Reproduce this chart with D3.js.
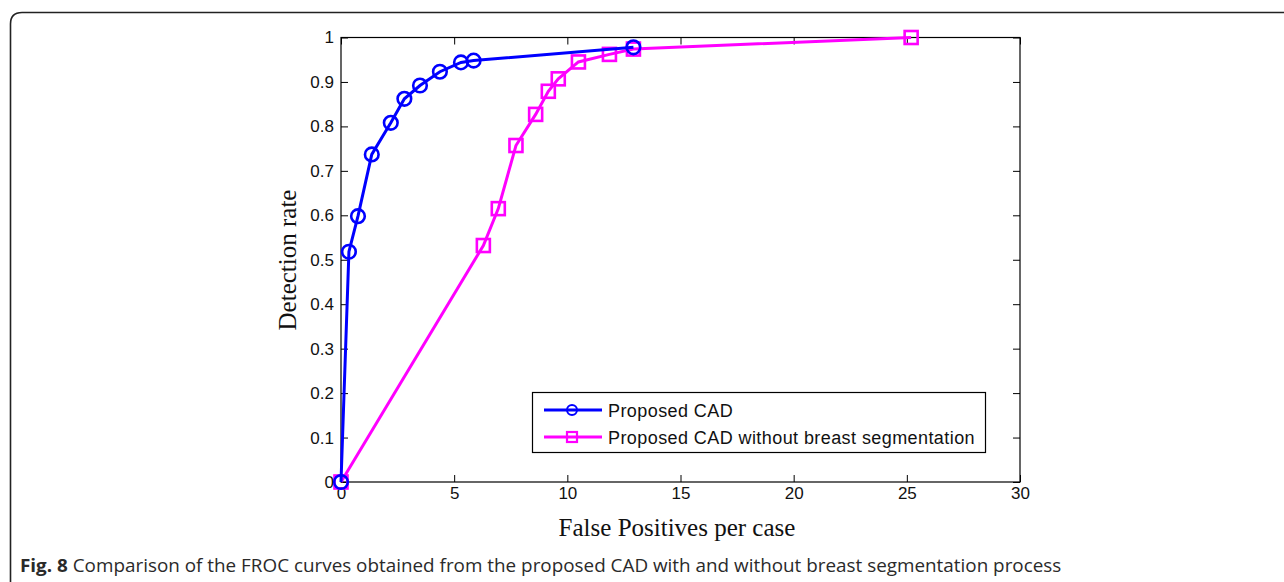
<!DOCTYPE html>
<html><head><meta charset="utf-8">
<script src="https://cdnjs.cloudflare.com/ajax/libs/d3/7.8.5/d3.min.js"></script>
<style>body{margin:0;background:#fff}svg{display:block}</style>
</head><body>
<svg id="c" width="1284" height="582"></svg>
<script>
const seriesNames = ["Proposed CAD", "Proposed CAD without breast segmentation"];
const cadFP = [0, 0.35, 0.75, 1.36, 2.2, 2.8, 3.49, 4.37, 5.3, 5.86, 12.92];
const cadDR = [0, 0.518, 0.598, 0.737, 0.808, 0.862, 0.892, 0.923, 0.944, 0.948, 0.978];
const noSegFP = [0, 6.29, 6.95, 7.73, 8.6, 9.16, 9.6, 10.49, 11.86, 12.92, 25.19];
const noSegDR = [0, 0.532, 0.615, 0.757, 0.827, 0.879, 0.907, 0.945, 0.962, 0.974, 1.0];
const xTicks = [0, 5, 10, 15, 20, 25, 30];
const yTicks = [0, 0.1, 0.2, 0.3, 0.4, 0.5, 0.6, 0.7, 0.8, 0.9, 1];
const xTitle = "False Positives per case";
const yTitle = "Detection rate";
const captionBold = "Fig. 8";
const captionText = " Comparison of the FROC curves obtained from the proposed CAD with and without breast segmentation process";

const svg = d3.select("#c");
// figure frame
svg.append("path")
  .attr("d", "M10.5,600 L10.5,24 Q10.5,12.5 22,12.5 L1300,12.5")
  .attr("fill", "none").attr("stroke", "#222").attr("stroke-width", 1.6);

const L = 341, R = 1020, T = 37.5, B = 482;
const x = d3.scaleLinear().domain([0, 30]).range([L, R]);
const y = d3.scaleLinear().domain([0, 1]).range([B, T]);
const tick = 7;
const tickFont = "'Liberation Sans', Arial, Helvetica, sans-serif";

const g = svg.append("g");
g.append("rect").attr("x", L).attr("y", T).attr("width", R - L).attr("height", B - T)
  .attr("fill", "none").attr("stroke", "#000").attr("stroke-width", 1.2);

const fmtY = d => d === 0 ? "0" : d === 1 ? "1" : d3.format(".1f")(d);
const xb = g.append("g").attr("transform", `translate(0,${B})`)
  .call(d3.axisBottom(x).tickValues(xTicks).tickSizeInner(-tick).tickSizeOuter(0).tickPadding(5).tickFormat(d3.format("d")));
const xt = g.append("g").attr("transform", `translate(0,${T})`)
  .call(d3.axisTop(x).tickValues(xTicks).tickSizeInner(-tick).tickSizeOuter(0).tickFormat(""));
const yl = g.append("g").attr("transform", `translate(${L},0)`)
  .call(d3.axisLeft(y).tickValues(yTicks).tickSizeInner(-tick).tickSizeOuter(0).tickPadding(7).tickFormat(fmtY));
const yr = g.append("g").attr("transform", `translate(${R},0)`)
  .call(d3.axisRight(y).tickValues(yTicks).tickSizeInner(-tick).tickSizeOuter(0).tickFormat(""));
[xb, xt, yl, yr].forEach(a => {
  a.select(".domain").remove();
  a.selectAll(".tick line").attr("stroke", "#000").attr("stroke-width", 1);
  a.selectAll("text").attr("font-family", tickFont).attr("font-size", 17).attr("fill", "#111");
});

const serif = "'Liberation Serif', 'Times New Roman', serif";
g.append("text").attr("x", 677).attr("y", 536).attr("text-anchor", "middle")
  .attr("font-family", serif).attr("font-size", 25).attr("fill", "#111").text(xTitle);
g.append("text").attr("transform", "translate(296,260) rotate(-90)").attr("text-anchor", "middle")
  .attr("font-family", serif).attr("font-size", 25).attr("fill", "#111").text(yTitle);

const blue = "#0000ff", mag = "#ff00ff";
const line = d3.line().x(d => x(d[0])).y(d => y(d[1]));
const cad = cadFP.map((v, i) => [v, cadDR[i]]);
const noSeg = noSegFP.map((v, i) => [v, noSegDR[i]]);

g.append("path").datum(noSeg).attr("d", line).attr("fill", "none").attr("stroke", mag).attr("stroke-width", 3);
g.selectAll(".sq").data(noSeg).enter().append("rect")
  .attr("x", d => x(d[0]) - 6.5).attr("y", d => y(d[1]) - 6.5).attr("width", 13).attr("height", 13)
  .attr("fill", "none").attr("stroke", mag).attr("stroke-width", 2.6);

g.append("path").datum(cad).attr("d", line).attr("fill", "none").attr("stroke", blue).attr("stroke-width", 3);
g.selectAll(".ci").data(cad).enter().append("circle")
  .attr("cx", d => x(d[0])).attr("cy", d => y(d[1])).attr("r", 6.8)
  .attr("fill", "none").attr("stroke", blue).attr("stroke-width", 2.6);

// legend
const lg = g.append("g");
lg.append("rect").attr("x", 532.5).attr("y", 392.5).attr("width", 453).attr("height", 60)
  .attr("fill", "#fff").attr("stroke", "#000").attr("stroke-width", 1.2);
const rows = [{name: seriesNames[0], c: blue, m: "circle", yy: 410}, {name: seriesNames[1], c: mag, m: "square", yy: 437}];
const texts = [];
rows.forEach(r => {
  lg.append("line").attr("x1", 544).attr("x2", 602).attr("y1", r.yy).attr("y2", r.yy)
    .attr("stroke", r.c).attr("stroke-width", 3);
  if (r.m === "circle") lg.append("circle").attr("cx", 572).attr("cy", r.yy).attr("r", 5)
    .attr("fill", "none").attr("stroke", r.c).attr("stroke-width", 2);
  else lg.append("rect").attr("x", 567).attr("y", r.yy - 5).attr("width", 10).attr("height", 10)
    .attr("fill", "none").attr("stroke", r.c).attr("stroke-width", 2.2);
  texts.push(lg.append("text").attr("x", 608).attr("y", r.yy + 6.5).attr("font-family", tickFont).attr("font-size", 18)
    .attr("fill", "#111").text(r.name));
});
const lw = texts[1].node().getComputedTextLength();
const ls = (975 - 608 - lw) / seriesNames[1].length;
texts.forEach(t => t.attr("letter-spacing", ls));

// caption
const cap = svg.append("text").attr("x", 0).attr("y", 0)
  .attr("font-family", "'Open Sans', 'Noto Sans', sans-serif").attr("font-size", 17.5).attr("fill", "#2a2a2a");
cap.append("tspan").attr("font-weight", "bold").text(captionBold);
cap.append("tspan").text(captionText);
const w = cap.node().getComputedTextLength();
const target = 1062 - 20;
cap.attr("transform", `translate(20,572) scale(${target / w},1)`);
</script>
</body></html>
